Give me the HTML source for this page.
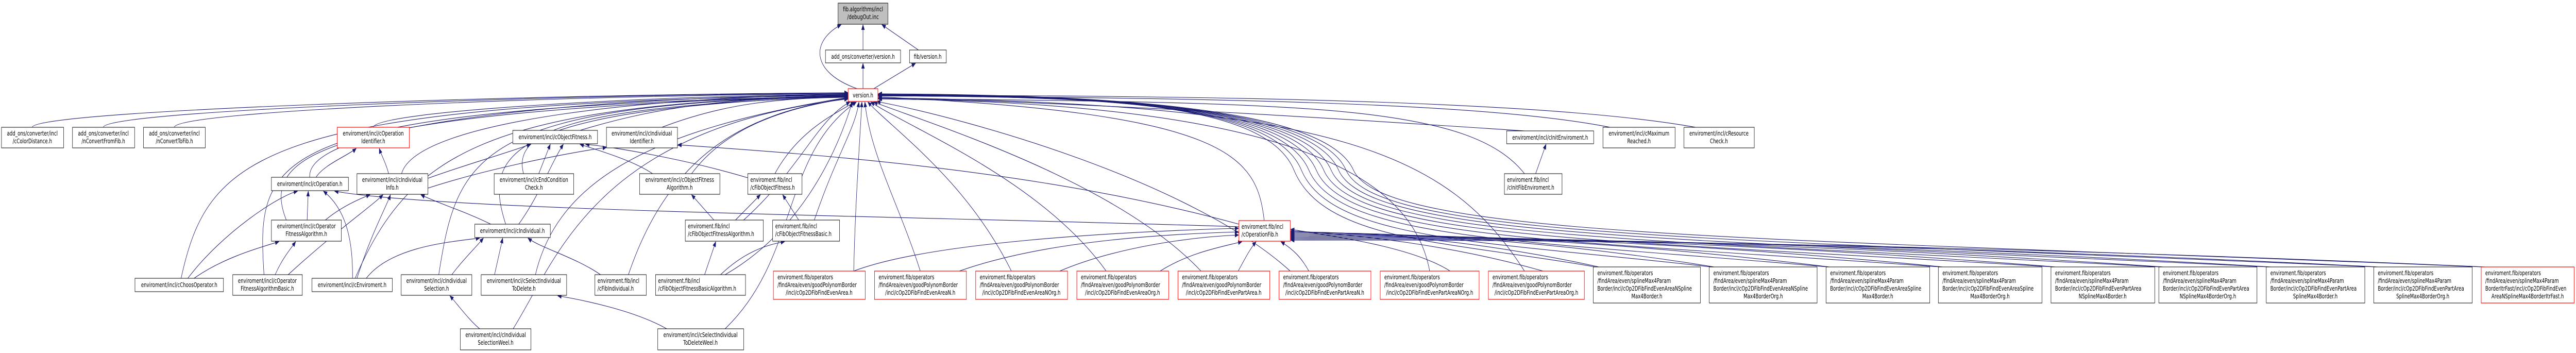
<!DOCTYPE html>
<html><head><meta charset="utf-8"><style>
html,body{margin:0;padding:0;background:#fff;width:100%;height:100%;overflow:hidden;}
svg{display:block;width:100vw;height:100vh;}
text{font-family:"DejaVu Sans","Liberation Sans",sans-serif;font-size:12px;fill:#000;}
.e{fill:none;stroke:#191970;stroke-width:1.1;}
.n{fill:#fff;stroke:#000;stroke-width:1;}
.r{fill:#fff;stroke:#ff0000;stroke-width:1.2;}
.c{text-anchor:middle;}
</style></head><body>
<svg viewBox="0 0 6928 685" preserveAspectRatio="none" xmlns="http://www.w3.org/2000/svg">
<defs><marker id="a" markerUnits="userSpaceOnUse" markerWidth="11" markerHeight="9" refX="10" refY="4.5" orient="auto"><path d="M0,0 L11,4.5 L0,9 z" fill="#191970"/></marker></defs>
<g class="e" marker-end="url(#a)">
<path d="M2321,97 L2321,48"/>
<path d="M2470,97 L2372,48"/>
<path d="M2305,172 C2180,140 2180,80 2262,48"/>
<path d="M2321,172 L2321,123"/>
<path d="M2350,172 L2462,123"/>
<path d="M87,247 C87,215 1400,183 2281,180"/>
<path d="M278,247 C278,215 1480,183 2281,181"/>
<path d="M469,247 C469,215 1550,184 2281,182"/>
<path d="M1004,247 C1010,215 1770,185 2281,183"/>
<path d="M833,344 C820,230 1700,186 2281,184"/>
<path d="M1080,337 C1120,230 1800,186 2281,184"/>
<path d="M770,427 C700,300 850,215 2281,185"/>
<path d="M487,540 C560,300 700,200 2281,185"/>
<path d="M710,533 C690,300 700,210 2281,186"/>
<path d="M955,540 C1100,300 1300,200 2281,186"/>
<path d="M1180,533 C1230,300 1280,200 2281,187"/>
<path d="M1360,435 C1300,300 1350,210 2281,187"/>
<path d="M1408,337 C1380,260 1500,205 2281,188"/>
<path d="M1560,253 C1800,200 2000,190 2281,188"/>
<path d="M1780,247 C1950,200 2100,190 2281,189"/>
<path d="M1440,533 C1500,350 1750,250 2281,189"/>
<path d="M1690,533 C1800,300 2000,220 2281,190"/>
<path d="M1860,337 C1950,250 2100,210 2281,191"/>
<path d="M1380,638 C1500,500 1600,250 2281,192"/>
<path d="M2000,427 C2150,330 2200,230 2286,198"/>
<path d="M1950,533 C2150,450 2250,300 2292,198"/>
<path d="M2084,337 C2150,250 2250,220 2298,198"/>
<path d="M1950,638 C2150,500 2100,300 2303,198"/>
<path d="M2190,427 C2250,300 2300,250 2310,198"/>
<path d="M2296,526 C2300,400 2310,300 2318,198"/>
<path d="M2475,526 C2420,400 2340,300 2326,198"/>
<path d="M2720,526 C2600,350 2400,250 2334,198"/>
<path d="M2975,526 C2800,350 2450,250 2342,198"/>
<path d="M3230,526 C3000,350 2500,240 2350,198"/>
<path d="M3470,526 C3200,350 2600,230 2358,197"/>
<path d="M3845,526 C3800,350 3500,200 2362,192"/>
<path d="M4100,526 C3900,300 3600,200 2362,190"/>
<path d="M4290,518 C3900,468 3560,470 3480,330 S2900,188 2362,186"/>
<path d="M4602,518 C4000,468 3580,468 3500,330 S2900,188 2362,186"/>
<path d="M4916,518 C4100,466 3600,466 3520,330 S2900,187 2362,185"/>
<path d="M5218,518 C4200,465 3620,465 3540,330 S2900,187 2362,185"/>
<path d="M5521,518 C4300,464 3640,464 3560,330 S2900,186 2362,184"/>
<path d="M5811,518 C4400,463 3660,463 3580,330 S2900,186 2362,184"/>
<path d="M6100,518 C4500,462 3680,462 3600,330 S2900,185 2362,183"/>
<path d="M6389,518 C4600,461 3700,461 3620,330 S2900,185 2362,183"/>
<path d="M6678,518 C4700,460 3720,460 3640,330 S2900,184 2362,182"/>
<path d="M3400,428 C3380,300 3300,220 2362,188"/>
<path d="M4100,254 C3800,240 3000,200 2362,190"/>
<path d="M4100,337 C3950,200 3500,200 2362,191"/>
<path d="M4330,247 C4000,200 3300,190 2362,186"/>
<path d="M4560,247 C4200,200 3400,185 2362,185"/>
<path d="M2296,526 C2500,470 3000,450 3331,443"/>
<path d="M2580,526 C2800,470 3100,455 3331,450"/>
<path d="M2850,526 C3000,480 3200,460 3331,456"/>
<path d="M3120,526 C3200,490 3280,480 3340,469"/>
<path d="M3330,526 C3350,500 3360,485 3378,469"/>
<path d="M3520,526 C3500,500 3480,485 3445,469"/>
<path d="M3900,526 C3800,480 3600,460 3471,445"/>
<path d="M4150,526 C3900,475 3650,455 3471,448"/>
<path d="M4300,518 C4000,470 3700,450 3471,450"/>
<path d="M4610,518 C4200,470 3800,450 3471,452"/>
<path d="M4920,518 C4400,472 3900,452 3471,454"/>
<path d="M5225,518 C4600,474 4000,454 3471,456"/>
<path d="M5528,518 C4800,476 4100,456 3471,458"/>
<path d="M5818,518 C5000,478 4200,458 3471,460"/>
<path d="M6108,518 C5200,480 4300,460 3471,462"/>
<path d="M6396,518 C5400,482 4400,462 3471,464"/>
<path d="M6685,518 C5600,484 4500,464 3471,466"/>
<path d="M3332,440 C2500,420 1200,410 900,371"/>
<path d="M3332,435 C2800,330 2200,300 1823,281"/>
<path d="M850,344 C870,320 940,300 958,288"/>
<path d="M1045,337 C1040,320 1025,300 1020,288"/>
<path d="M826,427 L829,371"/>
<path d="M875,427 C920,400 970,385 995,378"/>
<path d="M505,540 C600,450 750,380 800,371"/>
<path d="M522,540 C600,500 700,480 750,469"/>
<path d="M740,533 C760,500 785,480 795,469"/>
<path d="M775,533 C900,450 1000,400 1030,378"/>
<path d="M948,540 C950,450 920,400 870,371"/>
<path d="M960,540 C1000,450 1040,400 1050,378"/>
<path d="M985,540 C1050,480 1200,470 1290,462"/>
<path d="M1320,435 C1250,410 1180,395 1132,378"/>
<path d="M1151,346 C1250,320 1350,300 1427,280"/>
<path d="M1151,365 C1300,330 1500,300 1631,286"/>
<path d="M1215,533 C1250,500 1280,480 1300,462"/>
<path d="M1330,533 L1352,462"/>
<path d="M1615,533 C1550,500 1450,480 1420,462"/>
<path d="M1290,638 C1260,620 1230,590 1210,574"/>
<path d="M1793,638 C1700,600 1550,580 1500,574"/>
<path d="M1395,435 C1450,380 1480,320 1515,280"/>
<path d="M1449,337 L1480,280"/>
<path d="M1755,337 C1700,310 1600,290 1560,280"/>
<path d="M2011,345 C1850,310 1650,285 1575,280"/>
<path d="M1920,427 L1860,378"/>
<path d="M1978,427 L2045,378"/>
<path d="M2148,427 L2105,378"/>
<path d="M1895,533 L1925,469"/>
<path d="M1938,533 C2000,490 2060,475 2110,469"/>
<path d="M4130,337 L4158,280"/>
</g>
<rect x="2254" y="6" width="134" height="41" fill="#bfbfbf" stroke="#000"/>
<text class="c" x="2321" y="22">fib.algorithms/incl</text><text class="c" x="2321" y="37">/debugOut.inc</text>
<rect class="n" x="2220" y="97" width="202" height="25"/><text class="c" x="2321" y="114">add_ons/converter/version.h</text>
<rect class="n" x="2446" y="97" width="99" height="25"/><text class="c" x="2495" y="114">fib/version.h</text>
<rect class="r" x="2281" y="172" width="80" height="25"/><text class="c" x="2321" y="189">version.h</text>

<rect class="n" x="4" y="247" width="167" height="40"/><text class="c" x="87" y="263">add_ons/converter/incl</text><text class="c" x="87" y="278">/cColorDistance.h</text>
<rect class="n" x="195" y="247" width="167" height="40"/><text class="c" x="278" y="263">add_ons/converter/incl</text><text class="c" x="278" y="278">/nConvertFromFib.h</text>
<rect class="n" x="386" y="247" width="166" height="40"/><text class="c" x="469" y="263">add_ons/converter/incl</text><text class="c" x="469" y="278">/nConvertToFib.h</text>
<rect class="r" x="907" y="247" width="194" height="40"/><text class="c" x="1004" y="263">enviroment/incl/cOperation</text><text class="c" x="1004" y="278">Identifier.h</text>
<rect class="n" x="1379" y="253" width="228" height="26"/><text class="c" x="1493" y="270">enviroment/incl/cObjectFitness.h</text>
<rect class="n" x="1631" y="247" width="191" height="40"/><text class="c" x="1726" y="263">enviroment/incl/cIndividual</text><text class="c" x="1726" y="278">Identifier.h</text>
<rect class="n" x="4052" y="254" width="234" height="25"/><text class="c" x="4169" y="271">enviroment/incl/cInitEnviroment.h</text>
<rect class="n" x="4311" y="247" width="194" height="40"/><text class="c" x="4408" y="263">enviroment/incl/cMaximum</text><text class="c" x="4408" y="278">Reached.h</text>
<rect class="n" x="4529" y="247" width="189" height="40"/><text class="c" x="4623" y="263">enviroment/incl/cResource</text><text class="c" x="4623" y="278">Check.h</text>

<rect class="n" x="730" y="344" width="207" height="26"/><text class="c" x="833" y="361">enviroment/incl/cOperation.h</text>
<rect class="n" x="960" y="337" width="191" height="40"/><text class="c" x="1055" y="353">enviroment/incl/cIndividual</text><text class="c" x="1055" y="368">Info.h</text>
<rect class="n" x="1329" y="337" width="214" height="40"/><text class="c" x="1436" y="353">enviroment/incl/cEndCondition</text><text class="c" x="1436" y="368">Check.h</text>
<rect class="n" x="1720" y="337" width="216" height="40"/><text class="c" x="1828" y="353">enviroment/incl/cObjectFitness</text><text class="c" x="1828" y="368">Algorithm.h</text>
<rect class="n" x="2011" y="337" width="146" height="40"/><text x="2018" y="353">enviroment.fib/incl</text><text x="2018" y="368">/cFibObjectFitness.h</text>
<rect class="n" x="4046" y="337" width="155" height="40"/><text x="4053" y="353">enviroment.fib/incl</text><text x="4053" y="368">/cInitFibEnviroment.h</text>

<rect class="n" x="730" y="427" width="188" height="41"/><text class="c" x="824" y="443">enviroment/incl/cOperator</text><text class="c" x="824" y="458">FitnessAlgorithm.h</text>
<rect class="n" x="1277" y="435" width="203" height="26"/><text class="c" x="1378" y="452">enviroment/incl/cIndividual.h</text>
<rect class="n" x="1843" y="427" width="210" height="41"/><text x="1850" y="443">enviroment.fib/incl</text><text x="1850" y="458">/cFibObjectFitnessAlgorithm.h</text>
<rect class="n" x="2078" y="427" width="180" height="41"/><text x="2085" y="443">enviroment.fib/incl</text><text x="2085" y="458">/cFibObjectFitnessBasic.h</text>
<rect class="r" x="3332" y="428" width="138" height="40"/><text x="3339" y="444">enviroment.fib/incl</text><text x="3339" y="459">/cOperationFib.h</text>

<rect class="n" x="363" y="540" width="238" height="26"/><text class="c" x="482" y="557">enviroment/incl/cChoosOperator.h</text>
<rect class="n" x="626" y="533" width="187" height="40"/><text class="c" x="719" y="549">enviroment/incl/cOperator</text><text class="c" x="719" y="564">FitnessAlgorithmBasic.h</text>
<rect class="n" x="839" y="540" width="216" height="26"/><text class="c" x="947" y="557">enviroment/incl/cEnviroment.h</text>
<rect class="n" x="1079" y="533" width="190" height="40"/><text class="c" x="1174" y="549">enviroment/incl/cIndividual</text><text class="c" x="1174" y="564">Selection.h</text>
<rect class="n" x="1294" y="533" width="230" height="40"/><text class="c" x="1409" y="549">enviroment/incl/cSelectIndividual</text><text class="c" x="1409" y="564">ToDelete.h</text>
<rect class="n" x="1600" y="533" width="138" height="40"/><text x="1607" y="549">enviroment.fib/incl</text><text x="1607" y="564">/cFibIndividual.h</text>
<rect class="n" x="1763" y="533" width="242" height="40"/><text x="1770" y="549">enviroment.fib/incl</text><text x="1770" y="564">/cFibObjectFitnessBasicAlgorithm.h</text>

<rect class="n" x="1238" y="638" width="190" height="41"/><text class="c" x="1333" y="654">enviroment/incl/cIndividual</text><text class="c" x="1333" y="669">SelectionWeel.h</text>
<rect class="n" x="1769" y="638" width="231" height="41"/><text class="c" x="1884" y="654">enviroment/incl/cSelectIndividual</text><text class="c" x="1884" y="669">ToDeleteWeel.h</text>

<rect class="r" x="2080" y="526" width="247" height="55"/><text x="2091" y="542">enviroment.fib/operators</text><text x="2091" y="557">/findArea/even/goodPolynomBorder</text><text class="c" x="2203" y="572">/incl/cOp2DFibFindEvenArea.h</text>
<rect class="r" x="2352" y="526" width="247" height="55"/><text x="2363" y="542">enviroment.fib/operators</text><text x="2363" y="557">/findArea/even/goodPolynomBorder</text><text class="c" x="2475" y="572">/incl/cOp2DFibFindEvenAreaN.h</text>
<rect class="r" x="2624" y="526" width="247" height="55"/><text x="2635" y="542">enviroment.fib/operators</text><text x="2635" y="557">/findArea/even/goodPolynomBorder</text><text class="c" x="2747" y="572">/incl/cOp2DFibFindEvenAreaNOrg.h</text>
<rect class="r" x="2896" y="526" width="247" height="55"/><text x="2907" y="542">enviroment.fib/operators</text><text x="2907" y="557">/findArea/even/goodPolynomBorder</text><text class="c" x="3019" y="572">/incl/cOp2DFibFindEvenAreaOrg.h</text>
<rect class="r" x="3168" y="526" width="247" height="55"/><text x="3179" y="542">enviroment.fib/operators</text><text x="3179" y="557">/findArea/even/goodPolynomBorder</text><text class="c" x="3291" y="572">/incl/cOp2DFibFindEvenPartArea.h</text>
<rect class="r" x="3440" y="526" width="247" height="55"/><text x="3451" y="542">enviroment.fib/operators</text><text x="3451" y="557">/findArea/even/goodPolynomBorder</text><text class="c" x="3563" y="572">/incl/cOp2DFibFindEvenPartAreaN.h</text>
<rect class="r" x="3712" y="526" width="266" height="55"/><text x="3723" y="542">enviroment.fib/operators</text><text x="3723" y="557">/findArea/even/goodPolynomBorder</text><text class="c" x="3845" y="572">/incl/cOp2DFibFindEvenPartAreaNOrg.h</text>
<rect class="r" x="4003" y="526" width="258" height="55"/><text x="4014" y="542">enviroment.fib/operators</text><text x="4014" y="557">/findArea/even/goodPolynomBorder</text><text class="c" x="4132" y="572">/incl/cOp2DFibFindEvenPartAreaOrg.h</text>

<rect class="n" x="4285" y="518" width="288" height="70"/><text x="4296" y="534">enviroment.fib/operators</text><text x="4296" y="549">/findArea/even/splineMax4Param</text><text x="4296" y="564">Border/incl/cOp2DFibFindEvenAreaNSpline</text><text class="c" x="4429" y="579">Max4Border.h</text>
<rect class="n" x="4597" y="518" width="290" height="70"/><text x="4608" y="534">enviroment.fib/operators</text><text x="4608" y="549">/findArea/even/splineMax4Param</text><text x="4608" y="564">Border/incl/cOp2DFibFindEvenAreaNSpline</text><text class="c" x="4742" y="579">Max4BorderOrg.h</text>
<rect class="n" x="4911" y="518" width="279" height="70"/><text x="4922" y="534">enviroment.fib/operators</text><text x="4922" y="549">/findArea/even/splineMax4Param</text><text x="4922" y="564">Border/incl/cOp2DFibFindEvenAreaSpline</text><text class="c" x="5050" y="579">Max4Border.h</text>
<rect class="n" x="5213" y="518" width="279" height="70"/><text x="5224" y="534">enviroment.fib/operators</text><text x="5224" y="549">/findArea/even/splineMax4Param</text><text x="5224" y="564">Border/incl/cOp2DFibFindEvenAreaSpline</text><text class="c" x="5352" y="579">Max4BorderOrg.h</text>
<rect class="n" x="5516" y="518" width="279" height="70"/><text x="5527" y="534">enviroment.fib/operators</text><text x="5527" y="549">/findArea/even/splineMax4Param</text><text x="5527" y="564">Border/incl/cOp2DFibFindEvenPartArea</text><text class="c" x="5655" y="579">NSplineMax4Border.h</text>
<rect class="n" x="5806" y="518" width="264" height="70"/><text x="5817" y="534">enviroment.fib/operators</text><text x="5817" y="549">/findArea/even/splineMax4Param</text><text x="5817" y="564">Border/incl/cOp2DFibFindEvenPartArea</text><text class="c" x="5938" y="579">NSplineMax4BorderOrg.h</text>
<rect class="n" x="6095" y="518" width="265" height="70"/><text x="6106" y="534">enviroment.fib/operators</text><text x="6106" y="549">/findArea/even/splineMax4Param</text><text x="6106" y="564">Border/incl/cOp2DFibFindEvenPartArea</text><text class="c" x="6227" y="579">SplineMax4Border.h</text>
<rect class="n" x="6384" y="518" width="265" height="70"/><text x="6395" y="534">enviroment.fib/operators</text><text x="6395" y="549">/findArea/even/splineMax4Param</text><text x="6395" y="564">Border/incl/cOp2DFibFindEvenPartArea</text><text class="c" x="6516" y="579">SplineMax4BorderOrg.h</text>
<rect class="r" x="6673" y="518" width="250" height="70"/><text x="6684" y="534">enviroment.fib/operators</text><text x="6684" y="549">/findArea/even/splineMax4Param</text><text x="6684" y="564">BorderItrFast/incl/cOp2DFibFindEven</text><text class="c" x="6798" y="579">AreaNSplineMax4BorderItrFast.h</text>
</svg>
</body></html>
